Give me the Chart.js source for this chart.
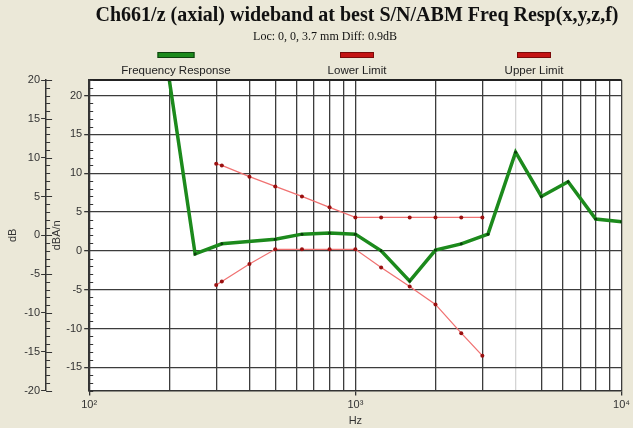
<!DOCTYPE html>
<html>
<head>
<meta charset="utf-8">
<script src="https://cdn.jsdelivr.net/npm/chart.js@4"></script>
<style>
  html, body { margin: 0; padding: 0; background: #ebe8d8; }
  #wrap { width: 633px; height: 428px; position: relative; }
</style>
</head>
<body>
<div id="wrap"><canvas id="myChart"></canvas></div>
<script>
// 1/3 octave bands (Hz) and measured response (dBA/n)
const freqBands = [200, 250, 315, 500, 630, 800, 1000, 1250, 1600, 2000, 2500, 3150, 4000, 5000, 6300, 8000, 10000];
const freqResponse = [22, -0.4, 0.9, 1.5, 2.15, 2.3, 2.15, 0.0, -3.9, 0.1, 0.9, 2.15, 12.7, 7.0, 8.9, 4.1, 3.75];

// limit curves
const limitFreqs = [300, 315, 400, 500, 630, 800, 1000, 1250, 1600, 2000, 2500, 3000];
const lowerLimit = [-4.4, -3.95, -1.7, 0.2, 0.2, 0.2, 0.2, -2.15, -4.6, -6.9, -10.6, -13.5];
const upperLimit = [11.2, 11.0, 9.55, 8.3, 7.0, 5.6, 4.3, 4.3, 4.3, 4.3, 4.3, 4.3];

// axis ticks
const xGridTicks = [100, 200, 300, 400, 500, 600, 700, 800, 900, 1000, 2000, 3000, 4000, 5000, 6000, 7000, 8000, 9000, 10000];
const xTickLabels = { 100: '10\u00B2', 1000: '10\u00B3', 10000: '10\u2074' };
const innerYTicks = [-15, -10, -5, 0, 5, 10, 15, 20];
const outerYTicks = [-20, -15, -10, -5, 0, 5, 10, 15, 20];

const titleText = 'Ch661/z (axial) wideband at best S/N/ABM Freq Resp(x,y,z,f)';
const subtitleText = 'Loc: 0, 0, 3.7 mm Diff: 0.9dB';
const legendItems = [
	{ text: 'Frequency Response', color: '#1c8a1c', edge: '#0e3f0e', cx: 176, w: 37 },
	{ text: 'Lower Limit', color: '#c41414', edge: '#7a0a0a', cx: 357, w: 34 },
	{ text: 'Upper Limit', color: '#c41414', edge: '#7a0a0a', cx: 534, w: 34 },
];

const toXY = (xs, ys) => xs.map((x, i) => ({ x: x, y: ys[i] }));

const gridDark = '#3c3c3c';
const labelFont = { family: "'Liberation Sans', Arial, sans-serif", size: 11 };

const chartDecor = {
	id: 'chartDecor',
	beforeDraw(chart) {
		const { ctx, chartArea: a } = chart;
		ctx.save();
		ctx.fillStyle = '#ffffff';
		ctx.fillRect(a.left, a.top, a.right - a.left, a.bottom - a.top);
		ctx.restore();
	},
	afterDraw(chart) {
		const { ctx, chartArea: a } = chart;
		ctx.save();
		// header
		ctx.fillStyle = '#111';
		ctx.textAlign = 'center';
		ctx.textBaseline = 'middle';
		ctx.font = 'bold 20px "Liberation Serif", serif';
		ctx.fillText(titleText, 357, 16);
		ctx.font = '12px "Liberation Serif", serif';
		ctx.fillText(subtitleText, 325, 37);
		ctx.font = '11.5px "Liberation Sans", Arial, sans-serif';
		legendItems.forEach(it => {
			ctx.fillStyle = it.color;
			ctx.fillRect(it.cx - it.w / 2, 52, it.w, 6);
			ctx.strokeStyle = it.edge;
			ctx.lineWidth = 1;
			ctx.strokeRect(it.cx - it.w / 2 + 0.5, 52.5, it.w - 1, 5);
			ctx.fillStyle = '#222';
			ctx.fillText(it.text, it.cx, 71);
		});
		// top border of the plot
		ctx.strokeStyle = '#222';
		ctx.lineWidth = 2;
		ctx.beginPath();
		ctx.moveTo(a.left, a.top);
		ctx.lineTo(a.right, a.top);
		ctx.stroke();
		// minor ticks on both y axes
		ctx.strokeStyle = '#333';
		ctx.lineWidth = 1;
		const outer = chart.scales.yOuter;
		for (let v = -20; v <= 20; v++) {
			const y = Math.round(outer.getPixelForValue(v)) + 0.5;
			ctx.beginPath();
			ctx.moveTo(outer.right, y);
			ctx.lineTo(outer.right + (v % 5 === 0 ? 6 : 4), y);
			ctx.stroke();
		}
		const inner = chart.scales.y;
		for (let v = -18; v <= 22; v++) {
			if (v % 5 === 0) continue;
			const y = Math.round(inner.getPixelForValue(v)) + 0.5;
			ctx.beginPath();
			ctx.moveTo(a.left, y);
			ctx.lineTo(a.left + 4, y);
			ctx.stroke();
		}
		ctx.restore();
	}
};

const ctx = document.getElementById('myChart');
new Chart(ctx, {
	type: 'line',
	data: {
		datasets: [{
			label: 'Frequency Response',
			data: toXY(freqBands, freqResponse),
			borderColor: '#1c8a1c',
			borderWidth: 3.5,
			backgroundColor: 'transparent',
			tension: 0,
			pointRadius: 1.5,
			pointBackgroundColor: '#0b3d0b',
			pointBorderWidth: 0,
		},
		{
			label: 'Lower Limit',
			data: toXY(limitFreqs, lowerLimit),
			borderColor: '#f07272',
			borderWidth: 1.3,
			backgroundColor: 'transparent',
			tension: 0,
			pointRadius: 2,
			pointBackgroundColor: '#9a1010',
			pointBorderWidth: 0,
		},
		{
			label: 'Upper Limit',
			data: toXY(limitFreqs, upperLimit),
			borderColor: '#f07272',
			borderWidth: 1.3,
			backgroundColor: 'transparent',
			tension: 0,
			pointRadius: 2,
			pointBackgroundColor: '#9a1010',
			pointBorderWidth: 0,
		}]
	},
	options: {
		responsive: true,
		maintainAspectRatio: false,
		animation: false,
		layout: {
			padding: { top: 80, left: 4, right: 8, bottom: 0 }
		},
		plugins: {
			legend: { display: false },
			title: { display: false },
			tooltip: { enabled: false },
		},
		scales: {
			x: {
				type: 'logarithmic',
				min: 100,
				max: 10000,
				afterBuildTicks: (scale) => {
					scale.ticks = xGridTicks.map(v => ({ value: v }));
				},
				ticks: {
					autoSkip: false,
					maxRotation: 0,
					padding: 3,
					color: '#333',
					font: labelFont,
					callback: (value) => xTickLabels[value] || '',
				},
				grid: {
					color: (c) => (c.tick && c.tick.value === 4000 ? '#d4d4d4' : gridDark),
					lineWidth: 1.3,
					tickLength: 5,
					tickColor: (c) => (c.tick && xTickLabels[c.tick.value] ? '#333' : 'transparent'),
				},
				border: { color: '#333', width: 1.5 },
				title: {
					display: true,
					text: 'Hz',
					color: '#333',
					padding: { top: 0, bottom: 0 },
					font: labelFont,
				},
			},
			y: {
				position: 'left',
				weight: 0,
				min: -18,
				max: 22,
				afterBuildTicks: (scale) => {
					scale.ticks = innerYTicks.map(v => ({ value: v }));
				},
				ticks: {
					autoSkip: false,
					padding: 2,
					color: '#333',
					font: labelFont,
				},
				grid: {
					color: gridDark,
					lineWidth: 1.3,
					tickLength: 5,
					tickColor: '#333',
				},
				border: { color: '#333', width: 1.5 },
				title: {
					display: true,
					text: 'dBA/n',
					color: '#333',
					padding: { top: 4, bottom: 1 },
					font: labelFont,
				},
			},
			yOuter: {
				type: 'linear',
				position: 'left',
				weight: 1,
				min: -20,
				max: 20,
				afterBuildTicks: (scale) => {
					scale.ticks = outerYTicks.map(v => ({ value: v }));
				},
				ticks: {
					autoSkip: false,
					padding: 1,
					color: '#333',
					font: labelFont,
				},
				grid: {
					drawOnChartArea: false,
					tickLength: 5,
					tickColor: '#333',
				},
				border: { color: '#333', width: 1.5 },
				title: {
					display: true,
					text: 'dB',
					color: '#333',
					padding: { top: 2, bottom: 4 },
					font: labelFont,
				},
			},
		}
	},
	plugins: [chartDecor]
});
</script>
</body>
</html>
